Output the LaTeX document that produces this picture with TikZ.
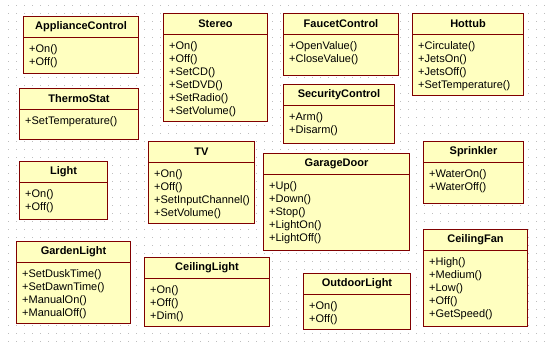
\documentclass[tikz,border=0pt]{standalone}
\usepackage{fontspec}
\setmainfont{Liberation Sans}
\usetikzlibrary{positioning}

\definecolor{clsfill}{RGB}{255,255,192}
\definecolor{clsdraw}{RGB}{128,0,0}
\definecolor{griddot}{RGB}{190,190,190}

\begin{document}
\begin{tikzpicture}[
    x=1pt, y=-1pt,
    font=\fontsize{11}{13}\selectfont,
    cls/.style 2 args={
        draw=clsdraw, fill=clsfill, line width=1pt,
        anchor=north west, inner sep=0pt,
        minimum width=#1, minimum height=#2,
    },
    title/.style={
        anchor=north, minimum height=21pt, inner sep=0pt,
        font=\fontsize{11}{13}\selectfont\bfseries,
    },
    ops/.style={
        anchor=north west, yshift=-21pt, align=left,
        inner xsep=6pt, inner ysep=7pt,
    },
    divider/.style={draw=clsdraw, line width=1pt},
]

\useasboundingbox (0,0) rectangle (545,346);

% ============ GRID ============
\foreach \gx in {8,16,...,544}
    \foreach \gy in {5,13,...,345}
        \fill[griddot] (\gx-0.5,\gy-0.5) rectangle (\gx+0.5,\gy+0.5);

% ============ CLASSES ============

% ApplianceControl
\node[cls={115pt}{57pt}] (appliance) at (23,16) {};
\node[title] at (appliance.north) {ApplianceControl};
\draw[divider] ([yshift=-21pt]appliance.north west) -- ([yshift=-21pt]appliance.north east);
\node[ops] at (appliance.north west) {+On()\\+Off()};

% Stereo
\node[cls={104pt}{108pt}] (stereo) at (163,13) {};
\node[title] at (stereo.north) {Stereo};
\draw[divider] ([yshift=-21pt]stereo.north west) -- ([yshift=-21pt]stereo.north east);
\node[ops] at (stereo.north west) {+On()\\+Off()\\+SetCD()\\+SetDVD()\\+SetRadio()\\+SetVolume()};

% FaucetControl
\node[cls={115pt}{62pt}] (faucet) at (283,13) {};
\node[title] at (faucet.north) {FaucetControl};
\draw[divider] ([yshift=-21pt]faucet.north west) -- ([yshift=-21pt]faucet.north east);
\node[ops] at (faucet.north west) {+OpenValue()\\+CloseValue()};

% Hottub
\node[cls={111pt}{82pt}] (hottub) at (412,13) {};
\node[title] at (hottub.north) {Hottub};
\draw[divider] ([yshift=-21pt]hottub.north west) -- ([yshift=-21pt]hottub.north east);
\node[ops] at (hottub.north west) {+Circulate()\\+JetsOn()\\+JetsOff()\\+SetTemperature()};

% ThermoStat
\node[cls={119pt}{51pt}] (thermo) at (19,88) {};
\node[title] at (thermo.north) {ThermoStat};
\draw[divider] ([yshift=-21pt]thermo.north west) -- ([yshift=-21pt]thermo.north east);
\node[ops] at (thermo.north west) {+SetTemperature()};

% SecurityControl
\node[cls={111pt}{59pt}] (security) at (283,84) {};
\node[title] at (security.north) {SecurityControl};
\draw[divider] ([yshift=-21pt]security.north west) -- ([yshift=-21pt]security.north east);
\node[ops] at (security.north west) {+Arm()\\+Disarm()};

% Light
\node[cls={88pt}{58pt}] (light) at (19,161) {};
\node[title] at (light.north) {Light};
\draw[divider] ([yshift=-21pt]light.north west) -- ([yshift=-21pt]light.north east);
\node[ops] at (light.north west) {+On()\\+Off()};

% TV
\node[cls={106pt}{82pt}] (tv) at (148,141) {};
\node[title] at (tv.north) {TV};
\draw[divider] ([yshift=-21pt]tv.north west) -- ([yshift=-21pt]tv.north east);
\node[ops] at (tv.north west) {+On()\\+Off()\\+SetInputChannel()\\+SetVolume()};

% GarageDoor
\node[cls={146pt}{97pt}] (garage) at (263,153) {};
\node[title] at (garage.north) {GarageDoor};
\draw[divider] ([yshift=-21pt]garage.north west) -- ([yshift=-21pt]garage.north east);
\node[ops] at (garage.north west) {+Up()\\+Down()\\+Stop()\\+LightOn()\\+LightOff()};

% Sprinkler
\node[cls={100pt}{62pt}] (sprinkler) at (423,141) {};
\node[title] at (sprinkler.north) {Sprinkler};
\draw[divider] ([yshift=-21pt]sprinkler.north west) -- ([yshift=-21pt]sprinkler.north east);
\node[ops] at (sprinkler.north west) {+WaterOn()\\+WaterOff()};

% GardenLight
\node[cls={114pt}{82pt}] (garden) at (16,241) {};
\node[title] at (garden.north) {GardenLight};
\draw[divider] ([yshift=-21pt]garden.north west) -- ([yshift=-21pt]garden.north east);
\node[ops] at (garden.north west) {+SetDuskTime()\\+SetDawnTime()\\+ManualOn()\\+ManualOff()};

% CeilingLight
\node[cls={125pt}{69pt}] (ceilinglight) at (144,257) {};
\node[title] at (ceilinglight.north) {CeilingLight};
\draw[divider] ([yshift=-21pt]ceilinglight.north west) -- ([yshift=-21pt]ceilinglight.north east);
\node[ops] at (ceilinglight.north west) {+On()\\+Off()\\+Dim()};

% OutdoorLight
\node[cls={107pt}{56pt}] (outdoor) at (303,273) {};
\node[title] at (outdoor.north) {OutdoorLight};
\draw[divider] ([yshift=-21pt]outdoor.north west) -- ([yshift=-21pt]outdoor.north east);
\node[ops] at (outdoor.north west) {+On()\\+Off()};

% CeilingFan
\node[cls={104pt}{97pt}] (ceilingfan) at (423,229) {};
\node[title] at (ceilingfan.north) {CeilingFan};
\draw[divider] ([yshift=-21pt]ceilingfan.north west) -- ([yshift=-21pt]ceilingfan.north east);
\node[ops] at (ceilingfan.north west) {+High()\\+Medium()\\+Low()\\+Off()\\+GetSpeed()};

\end{tikzpicture}
\end{document}
